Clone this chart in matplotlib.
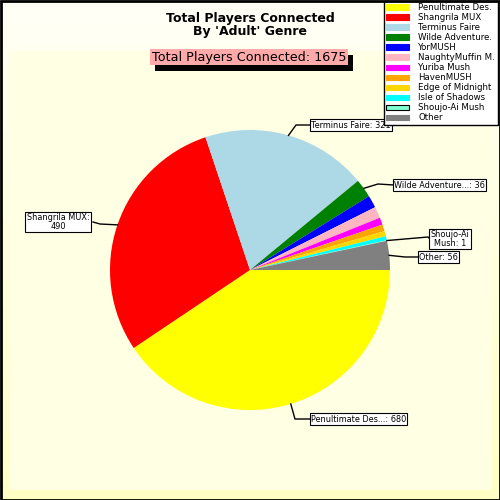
import matplotlib
matplotlib.use("Agg")
import matplotlib.pyplot as plt
import numpy as np
from matplotlib.patches import Rectangle

labels = ["Penultimate Des.", "Shangrila MUX", "Terminus Faire", "Wilde Adventure.",
          "YorMUSH", "NaughtyMuffin M.", "Yuriba Mush", "HavenMUSH",
          "Edge of Midnight", "Isle of Shadows", "Shoujo-Ai Mush", "Other"]
values = [680, 490, 321, 36, 24, 22, 14, 13, 10, 8, 1, 56]
colors = ["#ffff00", "#ff0000", "#add8e6", "#008000", "#0000ff", "#ffb6c1",
          "#ff00ff", "#ffa500", "#ffd700", "#00ffff", "#7fffd4", "#808080"]

# callout labels: (slice index, text, elbow point, box anchor, alignment, line end x)
callouts = [
    (0, "Penultimate Des...: 680", (295, 419), (311, 419), "left", 311),
    (1, "Shangrila MUX:\n490", (100, 224), (58, 222), "center", 93),
    (2, "Terminus Faire: 321", (296, 125), (311, 125), "left", 311),
    (3, "Wilde Adventure...: 36", (378, 184), (394, 185), "left", 394),
    (10, "Shoujo-Ai\nMush: 1", (428, 237), (450, 239), "center", 430),
    (11, "Other: 56", (405, 257), (419, 257), "left", 419),
]
total = sum(values)

fig = plt.figure(figsize=(5, 5), dpi=100)
ax = fig.add_axes([0, 0, 1, 1])

# background gradient (white at top, pale yellow at bottom) and plot area
grad = np.linspace(0, 1, 256)
bg = np.ones((256, 1, 3))
bg[:, 0, 2] = 0.97 - 0.2 * grad
ax.imshow(bg, extent=(0, 500, 0, 500), aspect="auto", zorder=0)
ax.add_patch(Rectangle((9, 10), 483, 439, facecolor="#ffffe4", edgecolor="none", zorder=1))
ax.add_patch(Rectangle((0.5, 0.5), 499, 499, facecolor="none", edgecolor="black", lw=2, zorder=20))

cx, cy, r = 250, 230, 140
wedges, _ = ax.pie(values, colors=colors, startangle=0, counterclock=False,
                   radius=r, center=(cx, cy), frame=True,
                   wedgeprops=dict(linewidth=0))
for w in wedges:
    w.set_zorder(3)
ax.set_xlim(0, 500)
ax.set_ylim(0, 500)
ax.set_aspect("equal")
ax.axis("off")

for idx, text, elbow, pos, ha, end_x in callouts:
    w = wedges[idx]
    mid = np.deg2rad((w.theta1 + w.theta2) / 2)
    px, py = cx + r * np.cos(mid), cy + r * np.sin(mid)
    ex, ey = elbow[0], 500 - elbow[1]
    tx, ty = pos[0], 500 - pos[1]
    ax.plot([px, ex, end_x], [py, ey, ty], color="black", lw=1, zorder=4)
    ax.text(tx, ty, text, ha=ha, va="center", fontsize=5.9, linespacing=1.0,
            zorder=5,
            bbox=dict(boxstyle="square,pad=0.15", facecolor="white", edgecolor="black", lw=0.8))

# titles
ax.text(250, 475, "Total Players Connected\nBy 'Adult' Genre", ha="center", va="center",
        fontsize=9, fontweight="bold", linespacing=1.05, zorder=6)
sub = f"Total Players Connected: {total}"
sub_txt = ax.text(249, 443, sub, ha="center", va="center", fontsize=9.2, color="black", zorder=6,
                  bbox=dict(boxstyle="square,pad=0.15", facecolor="#ffaaaa", edgecolor="none"))
fig.canvas.draw()
bb = sub_txt.get_bbox_patch().get_window_extent().transformed(ax.transData.inverted())
ax.add_patch(Rectangle((bb.x0 + 5, bb.y0 - 6), bb.width, bb.height,
                       facecolor="black", edgecolor="none", zorder=5))

# legend
handles = []
for lab, col in zip(labels, colors):
    ec = "black" if lab == "Shoujo-Ai Mush" else col
    handles.append(Rectangle((0, 0), 1, 1, facecolor=col, edgecolor=ec, lw=0.8))
leg = ax.legend(handles, labels, loc="upper right", bbox_to_anchor=(0.995, 0.999),
                fontsize=6.2, frameon=True, fancybox=False, borderpad=0.3,
                handlelength=2.6, handleheight=0.6, handletextpad=1.1,
                labelspacing=0.12, borderaxespad=0)
leg.get_frame().set_edgecolor("black")
leg.get_frame().set_linewidth(1)
leg.get_frame().set_facecolor("white")
leg.get_frame().set_alpha(1)
leg.set_zorder(10)

fig.savefig("out.png", dpi=100)
